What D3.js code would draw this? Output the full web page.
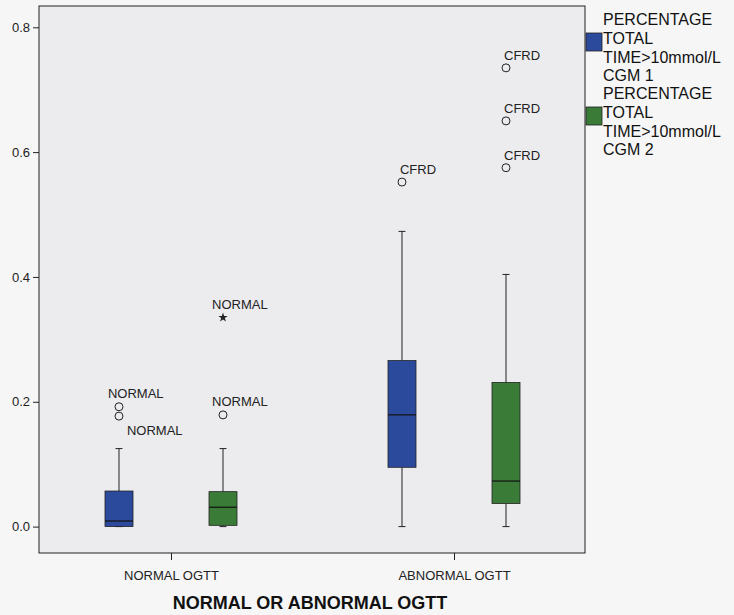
<!DOCTYPE html>
<html><head><meta charset="utf-8">
<script src="https://cdn.jsdelivr.net/npm/d3@7"></script>
<style>body{margin:0;background:#f6f6f6;}svg{display:block;font-family:Arial,"Liberation Sans",sans-serif;}</style>
</head><body>
<svg id="c" width="734" height="615"></svg>
<script>
const categories = ["NORMAL OGTT", "ABNORMAL OGTT"];
const seriesNames = ["PERCENTAGE TOTAL TIME>10mmol/L CGM 1", "PERCENTAGE TOTAL TIME>10mmol/L CGM 2"];
const legendLines = [["PERCENTAGE","TOTAL","TIME>10mmol/L","CGM 1"],["PERCENTAGE","TOTAL","TIME>10mmol/L","CGM 2"]];
// per category, per series
const whiskerLow  = [[0.000, 0.000], [0.000, 0.000]];
const q1          = [[0.000, 0.002], [0.095, 0.037]];
const median      = [[0.009, 0.031], [0.179, 0.073]];
const q3          = [[0.057, 0.056], [0.266, 0.231]];
const whiskerHigh = [[0.125, 0.125], [0.473, 0.404]];
// outliers: [category, series, value, kind, label]
const outliers = [
  [0, 0, 0.192, "o", "NORMAL"],
  [0, 0, 0.177, "o", "NORMAL"],
  [0, 1, 0.179, "o", "NORMAL"],
  [0, 1, 0.335, "*", "NORMAL"],
  [1, 0, 0.552, "o", "CFRD"],
  [1, 1, 0.575, "o", "CFRD"],
  [1, 1, 0.650, "o", "CFRD"],
  [1, 1, 0.735, "o", "CFRD"]
];
const yTicks = [0.0, 0.2, 0.4, 0.6, 0.8];
const colors = ["#2c4a9c", "#3a7b37"];

const svg = d3.select("#c");
const L = 39, R = 585, T = 6, B = 553;
const y = d3.scaleLinear().domain([-0.0423, 0.8341]).range([B, T]);
const x = d3.scalePoint().domain(categories).range([171, 454]);
const xs = d3.scaleBand().domain([0, 1]).range([-66, 66]).paddingInner(0.7308).paddingOuter(0);

svg.append("rect").attr("x", L).attr("y", T).attr("width", R - L).attr("height", B - T)
  .attr("fill", "#ececef").attr("stroke", "#222").attr("stroke-width", 1);

// y axis
const ya = svg.append("g").attr("transform", `translate(${L},0)`)
  .call(d3.axisLeft(y).tickValues(yTicks).tickFormat(d3.format(".1f")).tickSize(6).tickPadding(3));
ya.select(".domain").remove();
ya.selectAll("line").attr("stroke", "#222");
ya.selectAll("text").attr("font-size", 13).attr("fill", "#222");

// x axis
const xa = svg.append("g").attr("transform", `translate(0,${B})`)
  .call(d3.axisBottom(x).tickSize(7).tickPadding(11));
xa.select(".domain").remove();
xa.selectAll("line").attr("stroke", "#222");
xa.selectAll("text").attr("font-size", 13).attr("fill", "#222");

svg.append("text").attr("x", 310).attr("y", 609).attr("text-anchor", "middle")
  .attr("font-size", 18).attr("font-weight", "bold").attr("fill", "#111").text("NORMAL OR ABNORMAL OGTT");

// boxes
const bw = xs.bandwidth();
categories.forEach((c, ci) => {
  [0, 1].forEach(si => {
    const x0 = x(c) + xs(si), cx = x0 + bw / 2;
    const g = svg.append("g");
    g.append("line").attr("x1", cx).attr("x2", cx).attr("y1", y(whiskerHigh[ci][si])).attr("y2", y(q3[ci][si])).attr("stroke", "#222");
    g.append("line").attr("x1", cx).attr("x2", cx).attr("y1", y(q1[ci][si])).attr("y2", y(whiskerLow[ci][si])).attr("stroke", "#222");
    [whiskerHigh[ci][si], whiskerLow[ci][si]].forEach(v => {
      g.append("line").attr("x1", cx - 3.5).attr("x2", cx + 3.5).attr("y1", y(v)).attr("y2", y(v)).attr("stroke", "#222");
    });
    g.append("rect").attr("x", x0).attr("width", bw).attr("y", y(q3[ci][si]))
      .attr("height", y(q1[ci][si]) - y(q3[ci][si])).attr("fill", colors[si]).attr("stroke", "#222").attr("stroke-width", 0.8);
    g.append("line").attr("x1", x0).attr("x2", x0 + bw).attr("y1", y(median[ci][si])).attr("y2", y(median[ci][si])).attr("stroke", "#111").attr("stroke-width", 1.2);
  });
});

// outliers
let prev = null;
outliers.forEach(o => {
  const [ci, si, v, kind, lab] = o;
  const cx = x(categories[ci]) + xs(si) + bw / 2, cy = y(v);
  if (kind === "o") {
    svg.append("circle").attr("cx", cx).attr("cy", cy).attr("r", 4).attr("fill", "none").attr("stroke", "#222").attr("stroke-width", 1);
  } else {
    svg.append("path").attr("d", d3.symbol(d3.symbolStar, 28)()).attr("transform", `translate(${cx},${cy})`).attr("fill", "#222");
  }
  let lx = cx - 11, ly = cy - 9;
  if (lab === "CFRD") { lx = cx - 2; ly = cy - 8; }
  if (prev && prev.ci === ci && prev.si === si && Math.abs(prev.cy - cy) < 14) { lx = cx + 8; ly = cy + 19; }
  svg.append("text").attr("x", lx).attr("y", ly).attr("font-size", 13).attr("fill", "#222").text(lab);
  prev = { ci, si, cy };
});

// legend
legendLines.forEach((lines, i) => {
  const top = 14 + i * 74;
  svg.append("rect").attr("x", 586).attr("y", top + 19).attr("width", 16).attr("height", 18)
    .attr("fill", colors[i]).attr("stroke", "#222").attr("stroke-width", 0.8);
  lines.forEach((t, j) => {
    svg.append("text").attr("x", 603).attr("y", top + 11 + j * 18.8).attr("font-size", 16).attr("fill", "#111").text(t);
  });
});
</script>
</body></html>
